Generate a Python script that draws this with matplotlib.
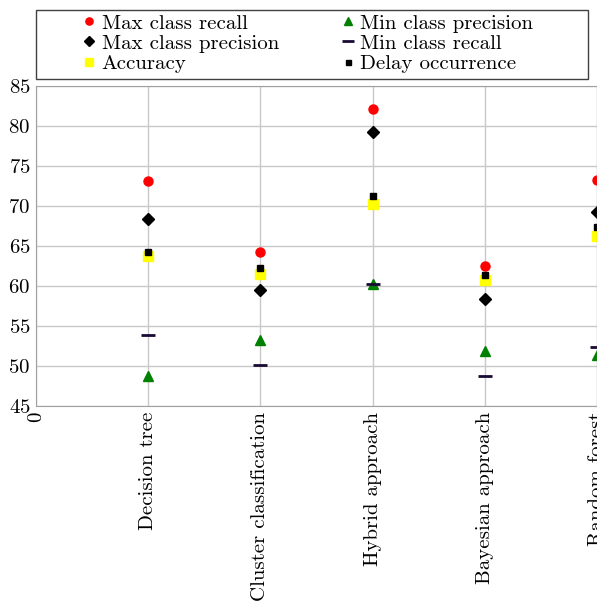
import matplotlib.pyplot as plt
from matplotlib.patches import Rectangle

plt.rcParams['font.family'] = ['cmr10', 'DejaVu Serif']
plt.rcParams['mathtext.fontset'] = 'cm'
plt.rcParams['axes.formatter.use_mathtext'] = True

# Approaches compared, placed at x = 1..5 (x = 0 left as an empty slot)
methods = ['Decision tree', 'Cluster classification', 'Hybrid approach',
           'Bayesian approach', 'Random forest']
xpos = [1, 2, 3, 4, 5]

max_recall = [73.1, 64.2, 82.1, 62.5, 73.2]
max_precision = [68.4, 59.5, 79.3, 58.4, 69.2]
accuracy = [63.8, 61.5, 70.2, 60.7, 66.2]
min_precision = [48.7, 53.2, 60.2, 51.9, 51.4]
min_recall = [53.9, 50.1, 60.2, 48.7, 52.4]
delay = [64.3, 62.3, 71.3, 61.4, 67.4]

W, H = 597, 606
fig = plt.figure(figsize=(W / 100, H / 100), dpi=100)
ax = fig.add_axes([36 / W, 200 / H, 561 / W, 320 / H])

h1, = ax.plot(xpos, max_recall, 'o', color='red', ms=6.5, ls='none',
              label='Max class recall')
h2, = ax.plot(xpos, max_precision, 'D', color='black', ms=6.5, ls='none',
              label='Max class precision')
h3, = ax.plot(xpos, accuracy, 's', color='#ffff00', ms=7.5, ls='none',
              label='Accuracy')
h4, = ax.plot(xpos, min_precision, '^', color='#008000', ms=7.5, ls='none',
              label='Min class precision')
h5, = ax.plot(xpos, min_recall, '_', color='#1a0a33', ms=10, mew=2,
              ls='none', label='Min class recall')
h6, = ax.plot(xpos, delay, 's', color='black', ms=4.5, ls='none',
              label='Delay occurrence')

ax.set_xlim(0, 5)
ax.set_ylim(45, 85)
ax.set_yticks(range(45, 86, 5))
ax.set_xticks([0] + xpos)
ax.set_xticklabels(['0'] + methods, rotation=90, fontsize=15)
ax.tick_params(axis='y', labelsize=15)
ax.tick_params(length=0, pad=4)
ax.grid(True, color='#c8c8c8', lw=1)
ax.set_axisbelow(True)
for s in ax.spines.values():
    s.set_color('#a0a0a0')

# legend box spans the full axes width above the plot
box_x, box_y, box_w, box_h = 36 / W, 1 - 79 / H, 552 / W, 69 / H
fig.patches.append(Rectangle((box_x, box_y), box_w, box_h, transform=fig.transFigure,
                             fill=False, edgecolor='#404040', lw=1.0))
fig.legend(handles=[h1, h2, h3, h4, h5, h6], ncol=2,
           loc='center', bbox_to_anchor=(box_x + box_w / 2 - 4 / W, box_y + box_h / 2 + 1 / H),
           fontsize=15, frameon=False, labelspacing=0.07,
           handlelength=0.6, handletextpad=0.3, borderaxespad=0,
           borderpad=0, columnspacing=3.0, markerscale=0.8)

fig.savefig('out.png', dpi=100)
